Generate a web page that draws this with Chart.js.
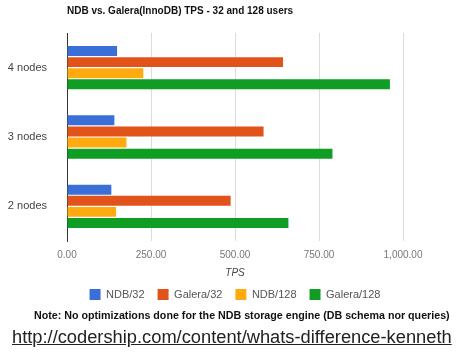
<!DOCTYPE html>
<html>
<head>
<meta charset="utf-8">
<script src="https://cdn.jsdelivr.net/npm/chart.js@4/dist/chart.umd.min.js"></script>
<style>
  body { margin: 0; background: #fff; font-family: "Liberation Sans", Arial, sans-serif; }
  #wrap { position: relative; width: 462px; height: 353px; }
  #chart { position: absolute; left: 0; top: 0; }
  #title { position: absolute; left: 67px; top: 5px; font-size: 10px; font-weight: bold; color: #111; white-space: nowrap; }
  #note { position: absolute; left: 34px; top: 309px; font-size: 10.7px; font-weight: bold; color: #111; white-space: nowrap; }
  #url { position: absolute; left: 12px; top: 326px; font-size: 18.3px; color: #222; text-decoration: underline; white-space: nowrap; }
</style>
</head>
<body>
<div id="wrap">
  <canvas id="chart" width="462" height="353"></canvas>
  <div id="title">NDB vs. Galera(InnoDB) TPS - 32 and 128 users</div>
  <div id="note">Note: No optimizations done for the NDB storage engine (DB schema nor queries)</div>
  <div id="url">http://codership.com/content/whats-difference-kenneth</div>
</div>
<script>
// data
const categories = ['4 nodes', '3 nodes', '2 nodes'];
const ndb32 = [149, 141, 132];
const galera32 = [643, 585, 487];
const ndb128 = [227, 177, 146];
const galera128 = [961, 790, 659];

const seriesNames = ['NDB/32', 'Galera/32', 'NDB/128', 'Galera/128'];
const seriesColors = ['#3a6fd8', '#e2521b', '#ffab0f', '#0f9d24'];

function makeChart() {
    const ctx = document.getElementById('chart').getContext('2d');
    const values = [ndb32, galera32, ndb128, galera128];

    new Chart(ctx, {
        type: 'bar',
        data: {
            labels: categories,
            datasets: values.map((v, i) => ({
                label: seriesNames[i],
                data: v,
                backgroundColor: seriesColors[i],
                borderWidth: 0,
                barPercentage: 0.9,
                categoryPercentage: 0.64
            }))
        },
        options: {
            indexAxis: 'y',
            responsive: false,
            animation: false,
            layout: { padding: { top: 33, right: 59, bottom: 43, left: 0 } },
            plugins: {
                title: { display: false },
                tooltip: { enabled: false },
                legend: {
                    position: 'bottom',
                    fullSize: false,
                    labels: {
                        boxWidth: 11,
                        boxHeight: 11,
                        padding: 13,
                        color: '#555',
                        font: { family: 'Liberation Sans', size: 11 }
                    }
                }
            },
            scales: {
                x: {
                    min: 0,
                    max: 1000,
                    afterFit: s => { s.height = 35; },
                    ticks: {
                        stepSize: 250,
                        padding: 8,
                        color: '#777',
                        font: { family: 'Liberation Sans', size: 10 },
                        callback: v => v.toLocaleString('en-US', { minimumFractionDigits: 2, maximumFractionDigits: 2 })
                    },
                    grid: { color: '#dcdcdc', drawTicks: false },
                    border: { display: false },
                    title: {
                        display: true,
                        text: 'TPS',
                        color: '#444',
                        padding: { top: 0, bottom: -3 },
                        font: { family: 'Liberation Sans', size: 10, style: 'italic' }
                    }
                },
                y: {
                    afterFit: s => { s.width = 67; },
                    ticks: {
                        padding: 12,
                        color: '#444',
                        font: { family: 'Liberation Sans', size: 11 }
                    },
                    grid: { display: false },
                    border: { display: true, color: '#333', width: 1 }
                }
            }
        }
    });
}

makeChart();
</script>
</body>
</html>
